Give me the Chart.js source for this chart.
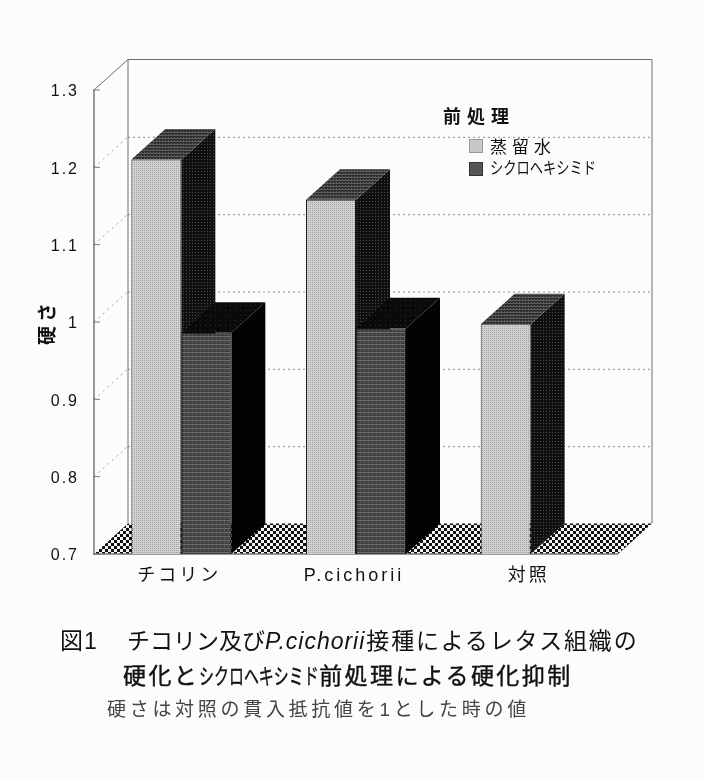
<!DOCTYPE html>
<html lang="ja">
<head>
<meta charset="utf-8">
<title>硬さ</title>
<script src="https://cdn.jsdelivr.net/npm/chart.js@4"></script>
<style>
  html, body { margin: 0; padding: 0; background: #fcfcfb; }
  #wrap { position: relative; width: 704px; height: 778px; overflow: hidden; font-family: "Liberation Sans", "Noto Sans CJK JP", sans-serif; color: #111; }
  canvas { position: absolute; left: 0; top: 0; }
  .txt { position: absolute; white-space: nowrap; line-height: 1; }
  .narrow { display: inline-block; transform-origin: left center; }
  .swatch { position: absolute; width: 14px; height: 14px; }
</style>
</head>
<body>
<div id="wrap">
  <canvas id="chart" width="704" height="778"></canvas>
  <div id="legend"></div>
  <div class="txt" style="left:60px;top:630px;font-size:23px;letter-spacing:1px">図1</div>
  <div class="txt" style="left:127px;top:630px;font-size:23px;letter-spacing:0">チコリン及び<i style="letter-spacing:1px;font-size:23px;margin-right:1px">P.cichorii</i><span style="letter-spacing:1.8px">接種によるレタス組織の</span></div>
  <div class="txt" style="left:123px;top:665px;font-size:23px;letter-spacing:2.4px;-webkit-text-stroke:.4px #111">硬化と<span class="narrow" style="font-size:22px;transform:scaleX(.68);margin-right:-56px;letter-spacing:0">シクロヘキシミド</span>前処理による硬化抑制</div>
  <div class="txt" style="left:107px;top:700px;font-size:19px;letter-spacing:3.7px;color:#444">硬さは対照の貫入抵抗値を1とした時の値</div>
</div>
<script>
// values
const categories = ['チコリン', 'P.cichorii', '対照'];
const seriesNames = ['蒸留水', 'シクロヘキシミド'];
const distilledWater = [1.21, 1.158, 0.997];
const cycloheximide = [0.986, 0.992, null];
const yTickLabels = ['0.7', '0.8', '0.9', '1', '1.1', '1.2', '1.3'];
const legendTitle = '前処理';
const yTitle = '硬さ';

// how far the 3D box goes back, in pixels
const DEPTH_X = 34;
const DEPTH_Y = 30.5;

function makePattern(size, paint) {
  const c = document.createElement('canvas');
  c.width = c.height = size;
  const g = c.getContext('2d');
  paint(g);
  return g.createPattern(c, 'repeat');
}

function dots(base, dot, size) {
  return makePattern(size, g => {
    g.fillStyle = base;
    g.fillRect(0, 0, size, size);
    g.fillStyle = dot;
    g.fillRect(0, 0, 1, 1);
  });
}

function streaks(base, line, size) {
  return makePattern(size, g => {
    g.fillStyle = base;
    g.fillRect(0, 0, size, size);
    g.fillStyle = line;
    g.fillRect(0, 0, size, 1);
    g.fillRect(0, 2, 1, 1);
  });
}

const lightFront = dots('#d2d2d2', '#a0a0a0', 2);
const darkFront = streaks('#404040', '#6e6e6e', 4);
const lightSide = makePattern(3, g => {
  g.fillStyle = '#101010';
  g.fillRect(0, 0, 3, 3);
  g.fillStyle = '#4c4c4c';
  g.fillRect(0, 0, 1, 1);
});
const lightTop = streaks('#2e2e2e', '#5e5e5e', 3);
const darkSide = '#030303';
const darkTop = dots('#0a0a0a', '#2a2a2a', 5);
const floorPattern = makePattern(6, g => {
  g.fillStyle = '#f4f4f4';
  g.fillRect(0, 0, 6, 6);
  g.fillStyle = '#111111';
  g.fillRect(0, 0, 3, 3);
  g.fillRect(3, 3, 3, 3);
});

function poly(ctx, pts, fill) {
  ctx.beginPath();
  pts.forEach((p, i) => (i ? ctx.lineTo(p[0], p[1]) : ctx.moveTo(p[0], p[1])));
  ctx.closePath();
  ctx.fillStyle = fill;
  ctx.fill();
}

function withSpacing(scale, method, spacing) {
  const orig = scale[method];
  scale[method] = function (...args) {
    const ctx = this.ctx;
    ctx.letterSpacing = spacing;
    orig.apply(this, args);
    ctx.letterSpacing = '0px';
  };
}

// back walls, floor, dotted grid, then side and top of every bar
const box3d = {
  id: 'box3d',
  beforeDraw(chart) {
    if (chart._spaced) return;
    chart._spaced = true;
    withSpacing(chart.scales.y, 'drawLabels', '2px');
    withSpacing(chart.scales.y, 'drawTitle', '4px');
    withSpacing(chart.scales.x, 'drawLabels', '3px');
  },
  beforeDatasetsDraw(chart) {
    const { ctx, chartArea: a, scales: { y } } = chart;
    const backL = a.left + DEPTH_X, backR = a.right + DEPTH_X;
    const backT = a.top - DEPTH_Y, backB = a.bottom - DEPTH_Y;
    ctx.save();

    poly(ctx, [[a.left, a.bottom], [backL, backB], [backR, backB], [a.right, a.bottom]], floorPattern);

    // dotted grid on the side wall and the back wall
    yTickLabels.forEach((t, i) => {
      if (i === 0 || i === yTickLabels.length - 1) return;
      const py = y.getPixelForValue(+t);
      ctx.strokeStyle = '#a0a0a0';
      ctx.lineWidth = 1;
      ctx.setLineDash([2, 4]);
      ctx.beginPath();
      ctx.moveTo(a.left, py);
      ctx.lineTo(backL, py - DEPTH_Y);
      ctx.stroke();
      ctx.strokeStyle = '#8c8c8c';
      ctx.setLineDash([2, 3]);
      ctx.beginPath();
      ctx.moveTo(backL, py - DEPTH_Y + 0.5);
      ctx.lineTo(backR, py - DEPTH_Y + 0.5);
      ctx.stroke();
    });
    ctx.setLineDash([]);

    // wall outlines
    ctx.strokeStyle = '#6e6e6e';
    ctx.lineWidth = 1;
    ctx.beginPath();
    ctx.moveTo(a.left, a.top);
    ctx.lineTo(backL, backT);
    ctx.lineTo(backR, backT);
    ctx.lineTo(backR, backB);
    ctx.moveTo(backL, backT);
    ctx.lineTo(backL, backB);
    ctx.stroke();

    ctx.strokeStyle = '#777777';
    ctx.lineWidth = 1.5;
    ctx.beginPath();
    ctx.moveTo(a.left, a.top);
    ctx.lineTo(a.left, a.bottom);
    ctx.lineTo(a.right, a.bottom);
    ctx.stroke();

    // tick marks point into the chart
    ctx.lineWidth = 1;
    yTickLabels.forEach(t => {
      const py = y.getPixelForValue(+t);
      ctx.beginPath();
      ctx.moveTo(a.left - 1, py);
      ctx.lineTo(a.left + 6, py);
      ctx.stroke();
    });

    // left to right so that the next front face hides the side behind it
    categories.forEach((c, ci) => {
      chart.data.datasets.forEach((ds, di) => {
        if (ds.data[ci] === null) return;
        const bar = chart.getDatasetMeta(di).data[ci];
        const { x, y: top, width } = bar.getProps(['x', 'y', 'width'], true);
        const base = a.bottom; // the bar base sits at value 0, below the cut axis
        const l = x - width / 2, r = x + width / 2;
        poly(ctx, [[r, top], [r + DEPTH_X, top - DEPTH_Y], [r + DEPTH_X, base - DEPTH_Y], [r, base]], ds.sideFill);
        poly(ctx, [[l, top], [l + DEPTH_X, top - DEPTH_Y], [r + DEPTH_X, top - DEPTH_Y], [r, top]], ds.topFill);
      });
    });
    ctx.restore();
  }
};

new Chart(document.getElementById('chart'), {
  type: 'bar',
  data: {
    labels: categories,
    datasets: [
      { label: seriesNames[0], data: distilledWater, backgroundColor: lightFront, borderColor: '#1c1c1c', borderWidth: 1, sideFill: lightSide, topFill: lightTop },
      { label: seriesNames[1], data: cycloheximide, backgroundColor: darkFront, borderColor: '#1c1c1c', borderWidth: 1, sideFill: darkSide, topFill: darkTop }
    ]
  },
  options: {
    responsive: false,
    animation: false,
    devicePixelRatio: 1,
    categoryPercentage: 0.5725,
    barPercentage: 1,
    layout: { padding: { left: 0, right: 86, top: 90, bottom: 184 } },
    plugins: { legend: { display: false }, tooltip: { enabled: false } },
    scales: {
      x: {
        grid: { display: false },
        border: { display: false },
        afterFit: s => { s.height = 40; },
        ticks: {
          color: '#111',
          padding: 3,
          maxRotation: 0,
          labelOffset: -2,
          font: { family: '"Liberation Sans", "Noto Sans CJK JP"', size: 18 }
        }
      },
      y: {
        min: 0.7,
        max: 1.3,
        grid: { display: false },
        border: { display: false },
        afterFit: s => { s.width = 94; },
        title: {
          display: true,
          text: yTitle,
          color: '#111',
          padding: { top: 35, bottom: 0 },
          font: { family: '"Noto Sans CJK JP"', size: 19, weight: 'bold' }
        },
        ticks: {
          stepSize: 0.1,
          color: '#111',
          padding: 7,
          labelOffset: 2,
          font: { family: '"Liberation Sans"', size: 16 },
          callback: (v, i) => yTickLabels[i]
        }
      }
    }
  },
  plugins: [box3d]
});

// legend sits inside the plot, as in the picture
const legend = document.getElementById('legend');
legend.innerHTML =
  `<div class="txt" style="left:443px;top:108px;font-size:18px;font-weight:bold;letter-spacing:6px">${legendTitle}</div>` +
  `<div class="swatch" style="left:469px;top:139px;background:#c8c8c8;border:1px solid #999;box-sizing:border-box"></div>` +
  `<div class="txt" style="left:490px;top:139px;font-size:17px;letter-spacing:5px">${seriesNames[0]}</div>` +
  `<div class="swatch" style="left:469px;top:162px;background:#555;border:1px solid #333;box-sizing:border-box"></div>` +
  `<div class="txt" style="left:490px;top:160px;font-size:17px"><span class="narrow" style="transform:scaleX(.78)">${seriesNames[1]}</span></div>`;
</script>
</body>
</html>
